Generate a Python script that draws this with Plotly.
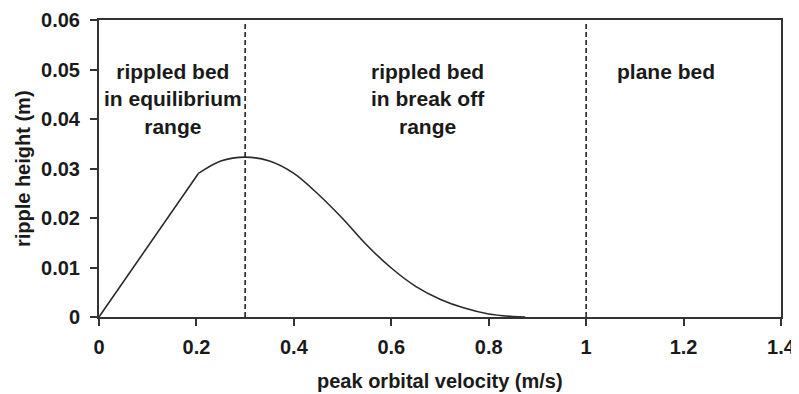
import plotly.graph_objects as go

# Data
velocity = [0.0, 0.05, 0.10, 0.15, 0.204, 0.25, 0.30, 0.35, 0.40, 0.45, 0.50,
            0.55, 0.60, 0.65, 0.70, 0.75, 0.80, 0.85, 0.875]
ripple_height = [0.0, 0.0071, 0.0142, 0.0213, 0.0290, 0.0315, 0.0323, 0.0315,
                 0.0290, 0.0248, 0.0199, 0.0145, 0.0099, 0.0062, 0.0036,
                 0.0018, 0.0006, 0.0001, 0.0]
boundaries = [0.3, 1.0]
boundary_top = 0.0592
x_ticks = [0, 0.2, 0.4, 0.6, 0.8, 1.0, 1.2, 1.4]
x_ticklabels = ["0", "0.2", "0.4", "0.6", "0.8", "1", "1.2", "1.4"]
y_ticks = [0, 0.01, 0.02, 0.03, 0.04, 0.05, 0.06]
y_ticklabels = ["0", "0.01", "0.02", "0.03", "0.04", "0.05", "0.06"]
region_labels = ["rippled bed<br>in equilibrium<br>range",
                 "rippled bed<br>in break off<br>range",
                 "plane bed"]
region_x = [0.151, 0.676, 1.164]
region_y = [0.0441, 0.0441, 0.0496]

FONT = "Liberation Sans, Arial, sans-serif"
TXT = "#1a1a1a"
AX = "#333333"

fig = go.Figure()
fig.add_trace(go.Scatter(x=velocity[:5], y=ripple_height[:5], mode="lines",
                         line=dict(color="#2a2a2a", width=1.6),
                         showlegend=False, hoverinfo="skip"))
fig.add_trace(go.Scatter(x=velocity[4:], y=ripple_height[4:], mode="lines",
                         line=dict(color="#2a2a2a", width=1.6, shape="spline", smoothing=0.9),
                         showlegend=False, hoverinfo="skip"))

for b in boundaries:
    fig.add_trace(go.Scatter(x=[b, b], y=[0, boundary_top], mode="lines",
                             line=dict(color="#222222", width=1.6, dash="5px,3px"),
                             showlegend=False, hoverinfo="skip"))

for lab, xv, yv in zip(region_labels, region_x, region_y):
    fig.add_annotation(x=xv, y=yv, xref="x", yref="y", text="<b>%s</b>" % lab,
                       showarrow=False, xanchor="center", yanchor="middle",
                       align="center",
                       font=dict(family=FONT, size=21, color=TXT))

fig.add_annotation(x=0.5, y=-0.215, xref="paper", yref="paper",
                   text="<b>peak orbital velocity (m/s)</b>", showarrow=False,
                   xanchor="center", yanchor="middle",
                   font=dict(family=FONT, size=20, color=TXT))
fig.add_annotation(x=-0.112, y=0.5, xref="paper", yref="paper",
                   text="<b>ripple height (m)</b>", showarrow=False, textangle=-90,
                   xanchor="center", yanchor="middle",
                   font=dict(family=FONT, size=20, color=TXT))

# The page body adds an 8px offset, so the figure is sized to fit the 799x394 window
fig.update_layout(
    width=791, height=386,
    margin=dict(l=91, r=18, t=12, b=77, autoexpand=False),
    paper_bgcolor="white", plot_bgcolor="white",
    font=dict(family=FONT, size=20, color=TXT),
)
fig.update_xaxes(range=[0, 1.4], tickvals=x_ticks, ticktext=["<b>%s</b>" % t for t in x_ticklabels],
                 showgrid=False, zeroline=False, showline=True, mirror=True,
                 linecolor=AX, linewidth=2, ticks="outside", ticklen=7,
                 tickcolor=AX, tickwidth=2, ticklabelstandoff=4, automargin=False,
                 tickfont=dict(family=FONT, size=20, color=TXT))
fig.update_yaxes(range=[0, 0.06], tickvals=y_ticks, ticktext=["<b>%s</b>" % t for t in y_ticklabels],
                 showgrid=False, zeroline=False, showline=True, mirror=True,
                 linecolor=AX, linewidth=2, ticks="outside", ticklen=7,
                 tickcolor=AX, tickwidth=2, ticklabelstandoff=6, automargin=False,
                 tickfont=dict(family=FONT, size=20, color=TXT))

fig.write_html("out.html")
